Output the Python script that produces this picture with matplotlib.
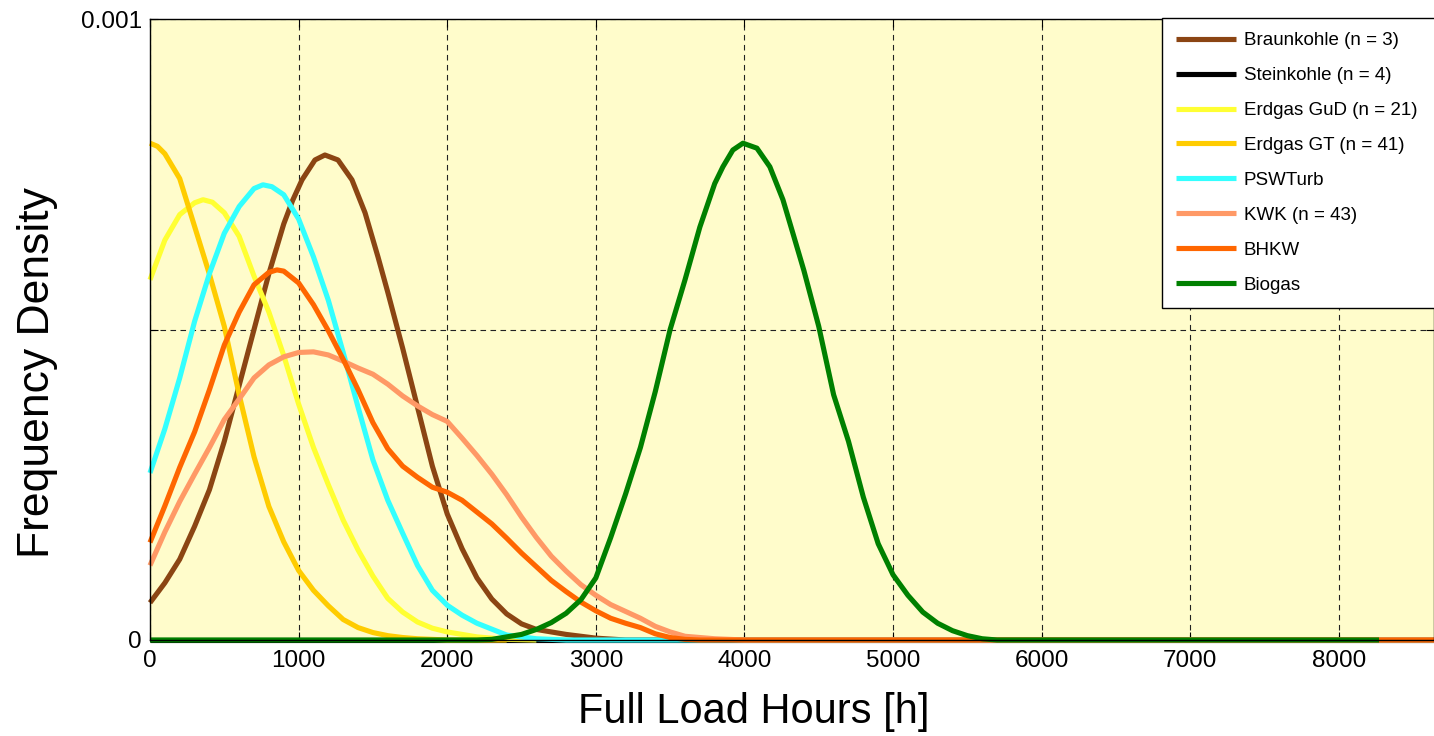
import numpy as np
import matplotlib
matplotlib.use("Agg")
import matplotlib.pyplot as plt

plt.rcParams['font.family'] = ['Liberation Sans', 'DejaVu Sans']

# densities, in units of 1e-4
X_BRAUN = [0, 100, 200, 300, 400, 500, 600, 700, 800, 900, 960, 1023, 1110, 1177, 1265, 1359,
           1447, 1534, 1600, 1700, 1800, 1900, 2000, 2100, 2200, 2300, 2400, 2500,
           2600, 2800, 3000, 3200, 8640]
Y_BRAUN = [0.60, 0.92, 1.30, 1.83, 2.42, 3.20, 4.10, 5.00, 5.90, 6.70, 7.08, 7.41, 7.73, 7.81, 7.73, 7.41,
           6.88, 6.17, 5.60, 4.70, 3.75, 2.80, 2.03, 1.47, 1.00, 0.66, 0.42, 0.26,
           0.17, 0.09, 0.03, 0.0, 0.0]

X_STEIN = [0, 8640]
Y_STEIN = [0.0, 0.0]

X_GUD = [0, 100, 200, 300, 357, 420, 500, 600, 700, 800, 900, 1000, 1100, 1200, 1300, 1400,
         1500, 1600, 1700, 1800, 1900, 2000, 2200, 2400, 2600]
Y_GUD = [5.80, 6.44, 6.85, 7.04, 7.09, 7.05, 6.88, 6.50, 5.86, 5.28, 4.58, 3.80, 3.10, 2.50, 1.93, 1.45,
         1.03, 0.67, 0.45, 0.29, 0.19, 0.13, 0.05, 0.01, 0.0]

X_GT = [0, 50, 100, 200, 300, 400, 500, 600, 700, 800, 900, 1000, 1100, 1200, 1300, 1400,
        1500, 1600, 1700, 1800, 2000, 2400]
Y_GT = [8.00, 7.95, 7.83, 7.43, 6.66, 5.89, 5.05, 3.95, 2.95, 2.15, 1.58, 1.12, 0.80, 0.55, 0.33, 0.20,
        0.12, 0.07, 0.04, 0.02, 0.0, 0.0]

X_PSW = [0, 100, 200, 300, 400, 500, 600, 700, 760, 820, 900, 1000, 1100, 1200, 1300, 1400,
         1500, 1600, 1700, 1800, 1900, 2000, 2100, 2200, 2400, 2600, 2800, 8640]
Y_PSW = [2.69, 3.40, 4.22, 5.13, 5.90, 6.55, 6.98, 7.27, 7.33, 7.30, 7.17, 6.78, 6.17, 5.47, 4.63, 3.75,
         2.90, 2.25, 1.72, 1.20, 0.80, 0.56, 0.40, 0.27, 0.08, 0.02, 0.0, 0.0]

X_KWK = [0, 100, 200, 300, 400, 500, 600, 700, 800, 900, 1000, 1100, 1200, 1300, 1400,
         1500, 1600, 1700, 1800, 1900, 2000, 2100, 2200, 2300, 2400, 2500, 2600, 2700,
         2800, 2900, 3000, 3100, 3200, 3300, 3400, 3500, 3600, 3800, 4000, 8640]
Y_KWK = [1.20, 1.74, 2.23, 2.67, 3.10, 3.55, 3.88, 4.22, 4.43, 4.56, 4.63, 4.64, 4.59, 4.49, 4.38,
         4.28, 4.12, 3.93, 3.77, 3.63, 3.52, 3.25, 2.97, 2.67, 2.34, 1.98, 1.65, 1.35,
         1.11, 0.89, 0.72, 0.57, 0.46, 0.35, 0.22, 0.13, 0.06, 0.02, 0.0, 0.0]

X_BHKW = [0, 100, 200, 300, 400, 500, 600, 700, 800, 854, 900, 1000, 1100, 1200, 1300, 1400,
          1500, 1600, 1700, 1800, 1900, 2000, 2100, 2200, 2300, 2400, 2500, 2600, 2700,
          2800, 2900, 3000, 3100, 3200, 3300, 3400, 3500, 3600, 3700, 8640]
Y_BHKW = [1.57, 2.16, 2.78, 3.35, 4.03, 4.75, 5.28, 5.72, 5.92, 5.96, 5.94, 5.75, 5.40, 4.98, 4.52, 4.03,
          3.50, 3.08, 2.80, 2.62, 2.46, 2.38, 2.25, 2.06, 1.87, 1.64, 1.40, 1.18, 0.96,
          0.78, 0.61, 0.47, 0.35, 0.27, 0.20, 0.10, 0.04, 0.01, 0.0, 0.0]

X_BIO = [0, 2200, 2300, 2400, 2500, 2600, 2700, 2800, 2900, 3000, 3100, 3200, 3300, 3400,
         3500, 3600, 3700, 3800, 3855, 3922, 3990, 4084, 4171, 4259, 4326, 4400, 4500, 4600, 4700,
         4800, 4900, 5000, 5100, 5200, 5300, 5400, 5500, 5600, 5700, 8270]
Y_BIO = [0.0, 0.0, 0.01, 0.05, 0.09, 0.17, 0.28, 0.43, 0.65, 1.00, 1.65, 2.35, 3.10, 4.00,
         5.00, 5.80, 6.65, 7.35, 7.62, 7.89, 8.00, 7.92, 7.62, 7.09, 6.55, 5.95, 5.05, 3.95, 3.20,
         2.30, 1.55, 1.05, 0.72, 0.45, 0.27, 0.15, 0.07, 0.02, 0.0, 0.0]

SERIES = [
    ('Braunkohle (n = 3)', X_BRAUN, Y_BRAUN, '#8b4513'),
    ('Steinkohle (n = 4)', X_STEIN, Y_STEIN, '#000000'),
    ('Erdgas GuD (n = 21)', X_GUD, Y_GUD, '#ffff33'),
    ('Erdgas GT (n = 41)', X_GT, Y_GT, '#ffcc00'),
    ('PSWTurb', X_PSW, Y_PSW, '#33ffff'),
    ('KWK (n = 43)', X_KWK, Y_KWK, '#ff9966'),
    ('BHKW', X_BHKW, Y_BHKW, '#ff6600'),
    ('Biogas', X_BIO, Y_BIO, '#008000'),
]

fig = plt.figure(figsize=(14.34, 7.36), dpi=100)
ax = fig.add_axes([150 / 1434, 1 - 640 / 736, 1284 / 1434, 621 / 736])
ax.set_facecolor('#fffccb')

for name, x, y, c in SERIES:
    ax.plot(x, np.array(y) * 1e-4, color=c, lw=3.7, label=name,
            clip_on=False, solid_capstyle='butt', solid_joinstyle='round')

ax.set_xlim(0, 8640)
ax.set_ylim(0, 0.001)
ax.set_xticks(range(0, 9000, 1000))
ax.set_yticks([0, 0.0005, 0.001])
ax.set_yticklabels(['0', '', '0.001'])
ax.tick_params(direction='in', length=6, width=0.8, top=True, right=True,
               labelsize=17.5, colors='k')
ax.tick_params(axis='x', pad=7)
ax.tick_params(axis='y', pad=6)
ax.grid(True, color='#222222', linestyle=(0, (5, 4)), linewidth=0.8)
for s in ax.spines.values():
    s.set_linewidth(1.0)

ax.set_xlabel('Full Load Hours [h]', fontsize=30)
ax.xaxis.set_label_coords(0.470, -0.083)
ax.set_ylabel('Frequency Density', fontsize=32)
ax.yaxis.set_label_coords(-0.072, 0.43)

# legend box runs past the right edge of the figure, as in the original
leg = ax.legend(loc='upper left', mode='expand',
                bbox_to_anchor=(1162 / 1434, 0, 300 / 1434, 1 - 18 / 736),
                bbox_transform=fig.transFigure, borderaxespad=0, fontsize=13.5,
                handlelength=3.2, handletextpad=0.4, labelspacing=0.95,
                borderpad=0.75, fancybox=False, framealpha=1)
leg.get_frame().set_edgecolor('k')
leg.get_frame().set_linewidth(1.0)

fig.savefig('out.png', dpi=100)
